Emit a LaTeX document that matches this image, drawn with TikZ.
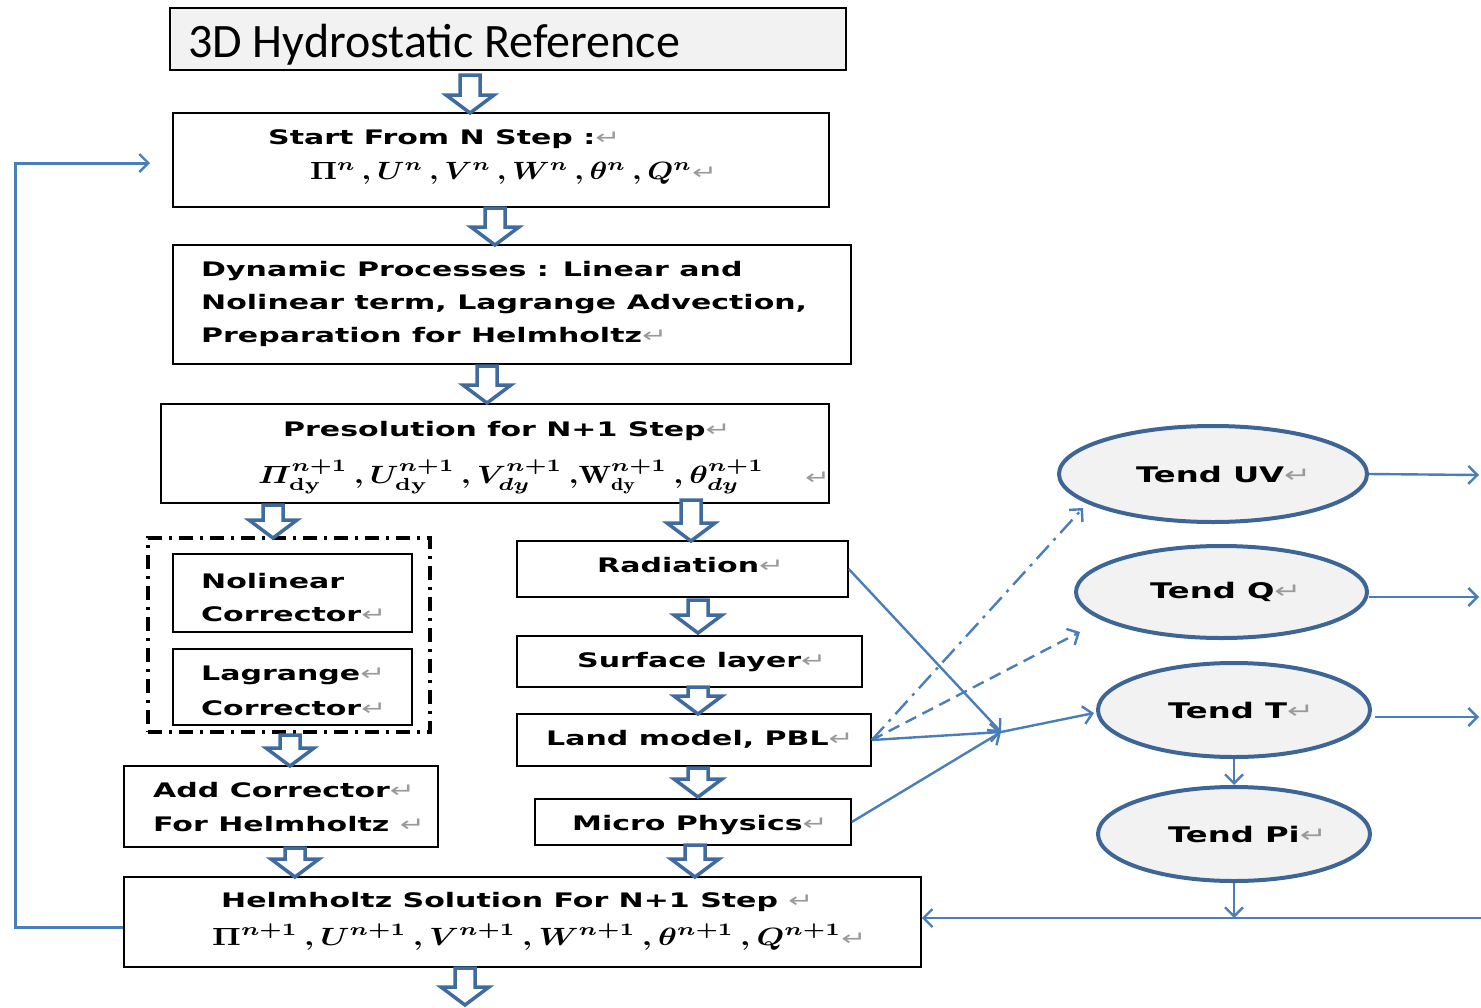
\documentclass[tikz,border=0pt]{standalone}
\usepackage{fontspec}
\usepackage{amsmath}
\usepackage{graphicx}
\usetikzlibrary{arrows.meta,shapes.geometric}
\newfontfamily\bodyfont[FakeStretch=1.5]{DejaVu Sans}
\newfontfamily\titlefont{Carlito}
\definecolor{blk}{HTML}{3F6B9F}
\definecolor{conncol}{HTML}{4A7EBB}
\definecolor{ellline}{HTML}{3D6596}
\definecolor{lightfill}{HTML}{F2F2F2}
\definecolor{retgray}{HTML}{9A9A9A}
\newcommand\ret{{\color{retgray}\bodyfont\mdseries ↵}}
\newcommand\bigmath[2]{{\fontsize{10}{12}\selectfont\scalebox{#1}[2.5]{$#2$}}}
\newcommand\cm{\,,}
\newcommand\barrow[3]{\draw[blockarr] (#1-10,#2) -- (#1-10,#3-18) -- (#1-24,#3-18) -- (#1,#3) -- (#1+24,#3-18) -- (#1+10,#3-18) -- (#1+10,#2) -- cycle;}
\tikzset{
  box/.style={draw=black, line width=1.6pt, fill=white, inner sep=0pt},
  txt/.style={anchor=west, inner sep=0pt, font=\bodyfont\bfseries\fontsize{20}{24}\selectfont},
  etxt/.style={anchor=west, inner sep=0pt, font=\bodyfont\bfseries\fontsize{21.5}{24}\selectfont},
  mth/.style={anchor=west, inner sep=0pt, font=\bodyfont\bfseries\fontsize{20}{24}\selectfont},
  blockarr/.style={draw=blk, line width=3.5pt, fill=white, line join=miter},
  ell/.style={ellipse, draw=ellline, line width=4pt, fill=lightfill, inner sep=0pt},
  conn/.style={draw=conncol, line width=2.4pt},
  tip/.style={-{Straight Barb[length=9pt,width=18pt,line width=2.4pt]}}
}
\begin{document}
\begin{tikzpicture}[x=1pt,y=-1pt]
\useasboundingbox (0,0) rectangle (1481,1007);
% boxes
\node[box, fill=lightfill, minimum width=676pt, minimum height=62pt] (title) at (508,39) {};
\node[box, minimum width=656pt, minimum height=94pt] (start) at (501,160) {};
\node[box, minimum width=678pt, minimum height=119pt] (dyn) at (512,304.5) {};
\node[box, minimum width=668pt, minimum height=99pt] (pre) at (495,453.5) {};
\node[draw=black, line width=3.2pt, dash pattern=on 14pt off 7pt on 3pt off 7pt, minimum width=282pt, minimum height=194pt, inner sep=0pt] (dbox) at (289,635) {};
\node[box, minimum width=239pt, minimum height=78pt] (nolin) at (292.5,593) {};
\node[box, minimum width=239pt, minimum height=76pt] (lag) at (292.5,687) {};
\node[box, minimum width=314pt, minimum height=81pt] (add) at (281,806.5) {};
\node[box, minimum width=331pt, minimum height=56pt] (rad) at (682.5,569) {};
\node[box, minimum width=345pt, minimum height=51pt] (surf) at (689.5,661.5) {};
\node[box, minimum width=354pt, minimum height=52pt] (land) at (694,740) {};
\node[box, minimum width=316pt, minimum height=46pt] (micro) at (693,822) {};
\node[box, minimum width=797pt, minimum height=90pt] (helm) at (522.5,922) {};
% ellipses
\node[ell, minimum width=308pt, minimum height=96pt] (uv) at (1213,474) {};
\node[ell, minimum width=291pt, minimum height=92pt] (tq) at (1221.5,592) {};
\node[ell, minimum width=272pt, minimum height=94pt] (tt) at (1234,710) {};
\node[ell, minimum width=272pt, minimum height=94pt] (tp) at (1234,834) {};
% texts
\node[anchor=west, inner sep=0pt, font=\titlefont\fontsize{48}{52}\selectfont] (ttxt) at (188,45) {3D Hydrostatic Reference};
\node[txt] (s1) at (268,139) {Start From N Step :\ret};
\node[mth] (s2) at (310,173) {\bigmath{3.0}{\boldsymbol{\Pi^{n}\cm U^{n}\cm V^{n}\cm W^{n}\cm\theta^{n}\cm Q^{n}}}\ret};
\node[txt] (d1) at (201,271) {Dynamic Processes : Linear and};
\node[txt] (d2) at (201,304) {Nolinear term, Lagrange Advection,};
\node[txt] (d3) at (201,337) {Preparation for Helmholtz\ret};
\node[txt] (p1) at (283,431) {Presolution for N+1 Step\ret};
\node[mth] (p2) at (258,477) {\bigmath{3.15}{\boldsymbol{\varPi^{n+1}_{\mathbf{dy}}\cm U^{n+1}_{\mathbf{dy}}\cm V^{n+1}_{dy}\,,}\mathbf{W}^{\boldsymbol{n+1}}_{\mathbf{dy}}\boldsymbol{\cm\theta^{n+1}_{dy}}}};
\node[txt] (p3) at (805,478) {\ret};
\node[txt] (n1) at (201,581) {Nolinear};
\node[txt] (n2) at (201,614) {Corrector\ret};
\node[txt] (l1) at (201,675) {Lagrange\ret};
\node[txt] (l2) at (201,708) {Corrector\ret};
\node[txt] (a1) at (153,790) {Add Corrector\ret};
\node[txt] (a2) at (153,824) {For Helmholtz \ret};
\node[txt] (r1) at (597,565) {Radiation\ret};
\node[txt] (su1) at (577,662) {Surface layer\ret};
\node[txt] (la1) at (546,739) {Land model, PBL\ret};
\node[txt] (mi1) at (572,825) {Micro Physics\ret};
\node[txt] (h1) at (221,902) {Helmholtz Solution For N+1 Step \ret};
\node[mth] (h2) at (212,937) {\bigmath{3.2}{\boldsymbol{\Pi^{n+1}\cm U^{n+1}\cm V^{n+1}\cm W^{n+1}\cm\theta^{n+1}\cm Q^{n+1}}}\ret};
\node[etxt] (e1) at (1136,474) {Tend UV\ret};
\node[etxt] (e2) at (1150,592) {Tend Q\ret};
\node[etxt] (e3) at (1168,710) {Tend T\ret};
\node[etxt] (e4) at (1168,834) {Tend Pi\ret};
% block arrows
\barrow{470}{75}{113}
\barrow{495}{208}{245}
\barrow{487}{366}{403}
\barrow{273}{505}{538}
\barrow{691}{500}{541}
\barrow{290}{735}{766}
\barrow{295}{848}{877}
\barrow{698}{600}{633}
\barrow{698}{687}{714}
\barrow{698}{768}{797}
\barrow{695}{845}{877}
\barrow{465}{968}{1005}
% thin connectors
\coordinate (j) at (1001,732);
\coordinate (uvin) at (1083,508);
\coordinate (tqin) at (1080,632);
\draw[conn,tip] (rad.east) -- (j);
\draw[conn,tip] (land.east) -- (j);
\draw[conn,tip] (micro.east) -- (j);
\draw[conn,tip] (j) -- (1094,713);
\draw[conn,tip,dash pattern=on 18pt off 7pt on 3pt off 7pt] (land.east) -- (uvin);
\draw[conn,tip,dash pattern=on 12pt off 7pt] (land.east) -- (tqin);
\coordinate (o1) at (1479,475);
\coordinate (o2) at (1479,597);
\coordinate (o3) at (1479,717);
\draw[conn,tip] (uv.east) -- (o1);
\draw[conn,tip] (tq.east |- o2) -- (o2);
\draw[conn,tip] (1375,717) -- (o3);
\draw[conn,tip] (tt.south) -- (tp.north);
\coordinate (rin) at (1481,918);
\draw[conn,tip] (tp.south) -- (tp.south |- rin);
\draw[conn,tip] (rin) -- (rin -| helm.east);
\coordinate (lb) at (15,927);
\coordinate (lt) at (15,163);
\draw[conn,line width=3pt,tip] (helm.west |- lb) -- (lb) -- (lt) -- (150,163);
\end{tikzpicture}
\end{document}
